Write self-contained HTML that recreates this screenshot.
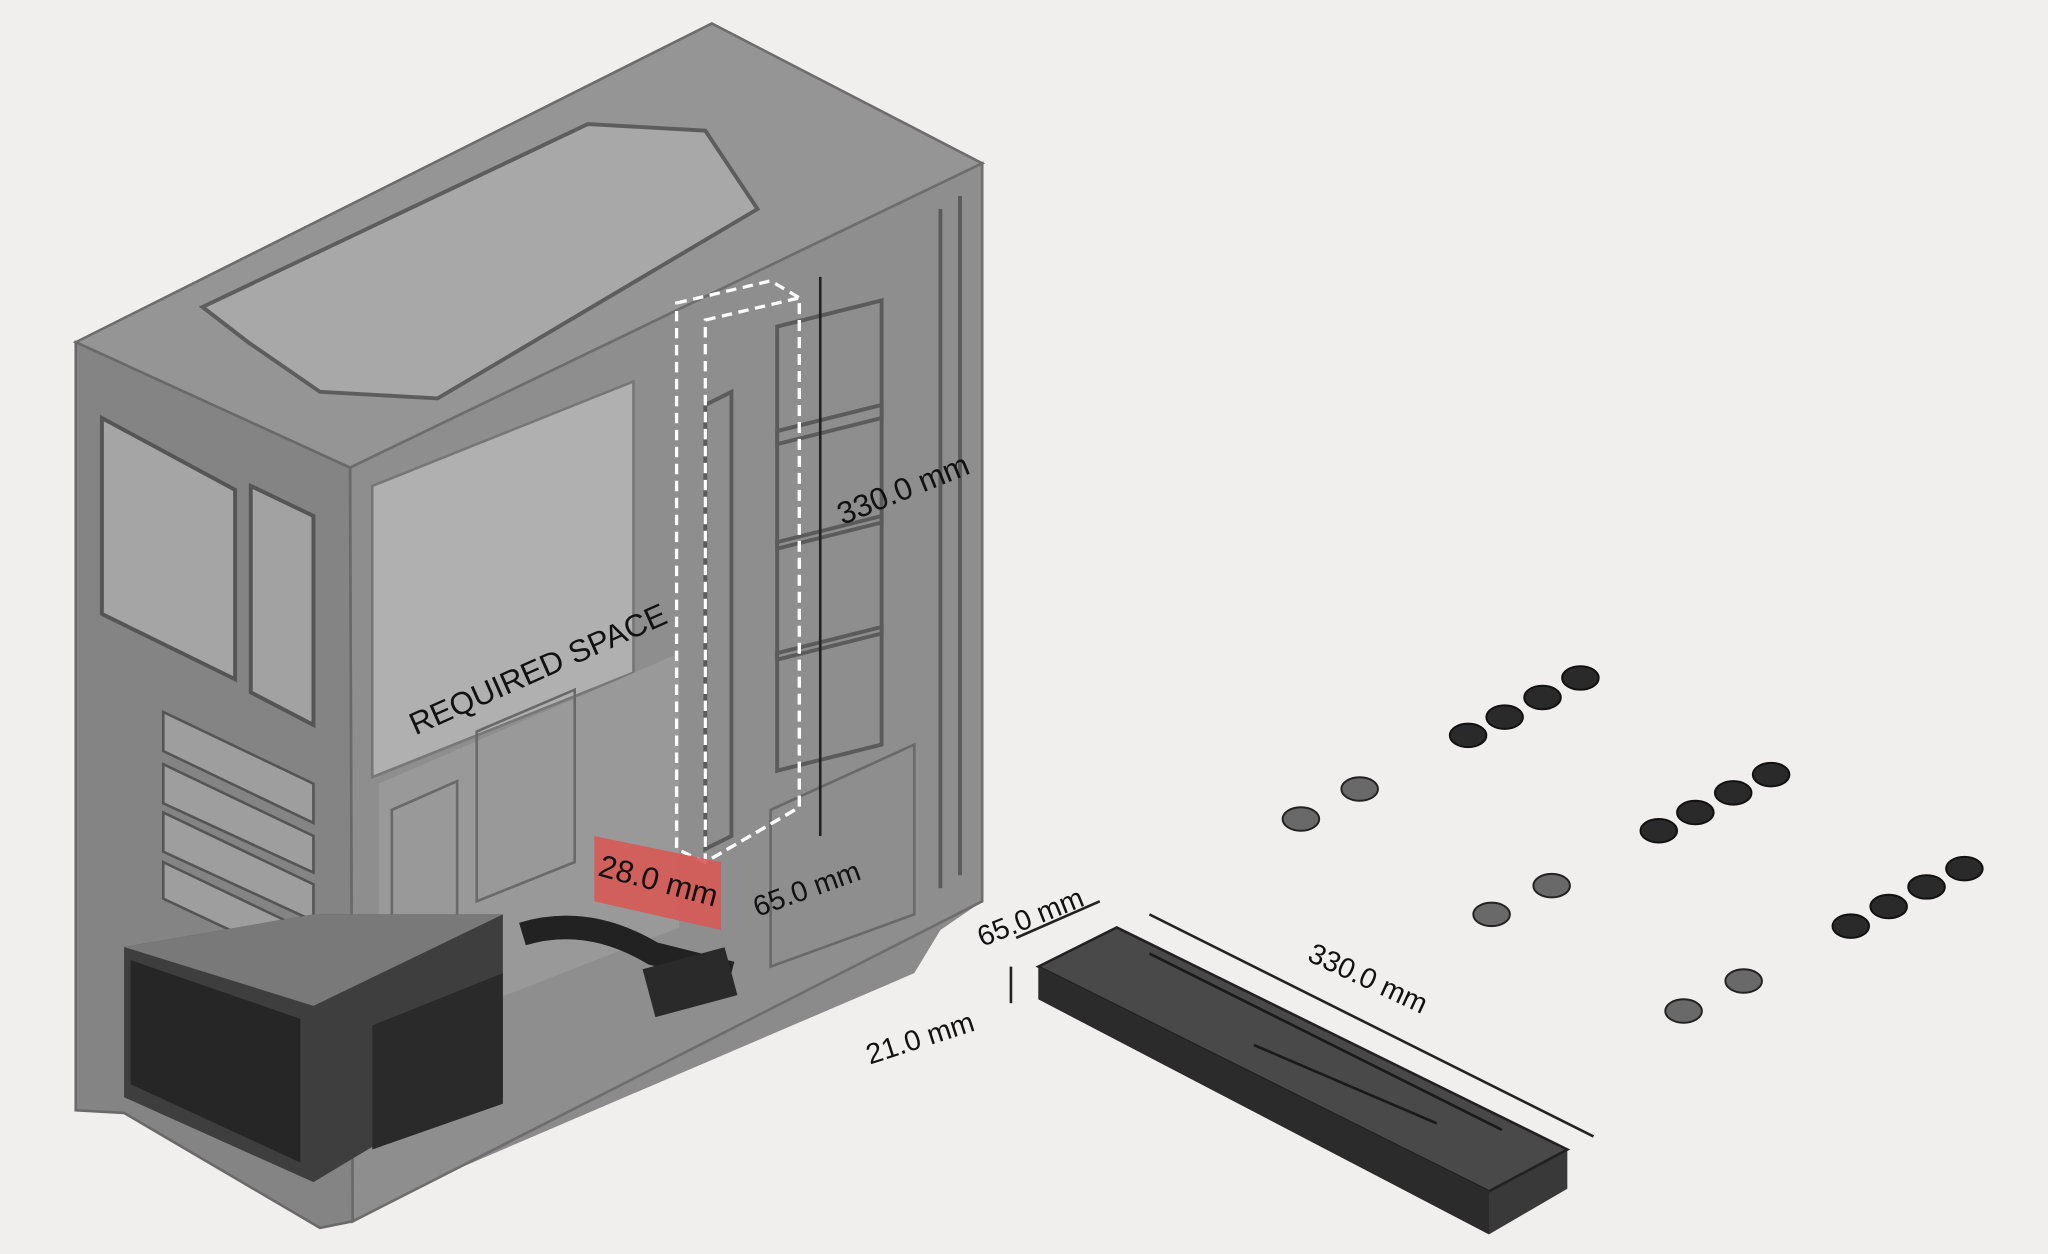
<!DOCTYPE html>
<html><head><meta charset="utf-8"><style>
html,body{margin:0;padding:0;background:#f1eeee;}
svg{display:block}
text{font-family:"Liberation Sans",sans-serif;font-weight:normal;fill:#111}
</style></head><body>
<svg width="2048" height="1254" viewBox="0 0 1568 960" preserveAspectRatio="none" xmlns="http://www.w3.org/2000/svg">
<rect width="1568" height="960" fill="#f1eeee"/>
<polygon points="58,262 545,18 752,125 752,690 720,712 700,745 245,940 95,852 58,850" fill="#8c8b8b"/>
<polygon points="58,262 545,18 752,125 268,358" fill="#969595" stroke="#6e6d6d" stroke-width="2"/>
<polygon points="155,235 450,95 540,100 580,160 335,305 245,300 190,262" fill="#a9a8a8" stroke="#5e5d5d" stroke-width="3"/>
<polygon points="268,358 752,125 752,690 270,935" fill="#8f8e8e" stroke="#6e6d6d" stroke-width="2"/>
<polygon points="285,372 485,292 485,515 285,595" fill="#b1b0b0" stroke="#777" stroke-width="2"/>
<polygon points="290,600 520,500 520,710 290,800" fill="#9a9999"/>
<g fill="none" stroke="#6a6969" stroke-width="2">
<path d="M300,620 L350,598 L350,720 L300,740 Z"/>
<path d="M365,560 L440,528 L440,660 L365,690 Z"/>
<path d="M590,620 L700,570 L700,700 L590,740 Z"/>
</g>
<g fill="none" stroke="#5c5b5b" stroke-width="3">
<path d="M595,250 L675,230 L675,320 L595,340 Z"/>
<path d="M595,330 L675,310 L675,400 L595,420 Z"/>
<path d="M595,415 L675,395 L675,485 L595,505 Z"/>
<path d="M595,500 L675,480 L675,570 L595,590 Z"/>
<path d="M720,160 L720,680 M735,150 L735,670"/>
<path d="M540,310 L560,300 L560,640 L540,650 Z"/>
</g>
<line x1="628" y1="212" x2="628" y2="640" stroke="#222" stroke-width="2"/>
<polygon points="58,262 268,358 270,935 245,940 95,852 58,850" fill="#858484" stroke="#6a6969" stroke-width="2"/>
<polygon points="78,320 180,375 180,520 78,470" fill="#a6a5a5" stroke="#555" stroke-width="3"/>
<polygon points="192,372 240,395 240,555 192,530" fill="#a3a2a2" stroke="#555" stroke-width="3"/>
<g fill="#9f9e9e" stroke="#555" stroke-width="2">
<polygon points="125,545 240,600 240,630 125,575"/>
<polygon points="125,585 240,640 240,668 125,615"/>
<polygon points="125,622 240,677 240,705 125,652"/>
<polygon points="125,660 240,715 240,742 125,688"/>
</g>
<polygon points="95,725 240,700 385,700 385,840 290,875 240,905 95,840" fill="#3f3e3e"/>
<polygon points="95,725 240,700 385,700 240,770" fill="#7a7979"/>
<polygon points="285,785 385,745 385,845 285,880" fill="#2b2a2a"/>
<polygon points="100,735 230,780 230,890 100,830" fill="#222" opacity="0.85"/>
<path d="M400,715 Q450,700 500,730 L560,745" stroke="#222" stroke-width="18" fill="none"/>
<rect x="495" y="735" width="65" height="38" fill="#2a2a2a" transform="rotate(-15 520 750)"/>
<g fill="none" stroke="#fff" stroke-width="2.5" stroke-dasharray="8,5">
<polygon points="518,232 590,215 612,228 612,618 540,660 518,650"/>
<polygon points="540,245 612,228 612,618 540,660"/>
</g>
<polygon points="455,640 552,660 552,712 455,690" fill="#d75a55" opacity="0.9"/>
<text font-size="24" transform="translate(457,670) rotate(15)">28.0 mm</text>
<text font-size="22" transform="translate(580,702) rotate(-20)">65.0 mm</text>
<text font-size="24" transform="translate(645,402) rotate(-22)">330.0 mm</text>
<text font-size="24" transform="translate(318,563) rotate(-24)">REQUIRED SPACE</text>
<polygon points="795,740 855,710 1200,880 1200,910 1140,945 795,765" fill="#3a3939"/>
<polygon points="795,740 855,710 1200,880 1140,912" fill="#4a4949" stroke="#222" stroke-width="2"/>
<polygon points="795,740 1140,912 1140,945 795,765" fill="#2c2b2b"/>
<g stroke="#1a1a1a" stroke-width="2" fill="none">
<path d="M880,730 L1150,865"/><path d="M960,800 L1100,860"/>
</g>
<line x1="778" y1="718" x2="842" y2="690" stroke="#222" stroke-width="2"/>
<line x1="880" y1="700" x2="1220" y2="870" stroke="#222" stroke-width="2"/>
<line x1="774" y1="740" x2="774" y2="768" stroke="#222" stroke-width="2"/>
<text font-size="22" transform="translate(752,725) rotate(-22)">65.0 mm</text>
<text font-size="22" transform="translate(666,815) rotate(-18)">21.0 mm</text>
<text font-size="22" transform="translate(1000,735) rotate(25)">330.0 mm</text>
<g fill="#2a2a2a" stroke="#111" stroke-width="1.5">
<ellipse cx="1124" cy="563" rx="14" ry="9"/><ellipse cx="1152" cy="549" rx="14" ry="9"/><ellipse cx="1181" cy="534" rx="14" ry="9"/><ellipse cx="1210" cy="519" rx="14" ry="9"/>
<ellipse cx="1270" cy="636" rx="14" ry="9"/><ellipse cx="1298" cy="622" rx="14" ry="9"/><ellipse cx="1327" cy="607" rx="14" ry="9"/><ellipse cx="1356" cy="593" rx="14" ry="9"/>
<ellipse cx="1417" cy="709" rx="14" ry="9"/><ellipse cx="1446" cy="694" rx="14" ry="9"/><ellipse cx="1475" cy="679" rx="14" ry="9"/><ellipse cx="1504" cy="665" rx="14" ry="9"/>
</g>
<g fill="#6a6969" stroke="#222" stroke-width="1.5">
<ellipse cx="996" cy="627" rx="14" ry="9"/><ellipse cx="1041" cy="604" rx="14" ry="9"/>
<ellipse cx="1142" cy="700" rx="14" ry="9"/><ellipse cx="1188" cy="678" rx="14" ry="9"/>
<ellipse cx="1289" cy="774" rx="14" ry="9"/><ellipse cx="1335" cy="751" rx="14" ry="9"/>
</g>
</svg>
</body></html>
